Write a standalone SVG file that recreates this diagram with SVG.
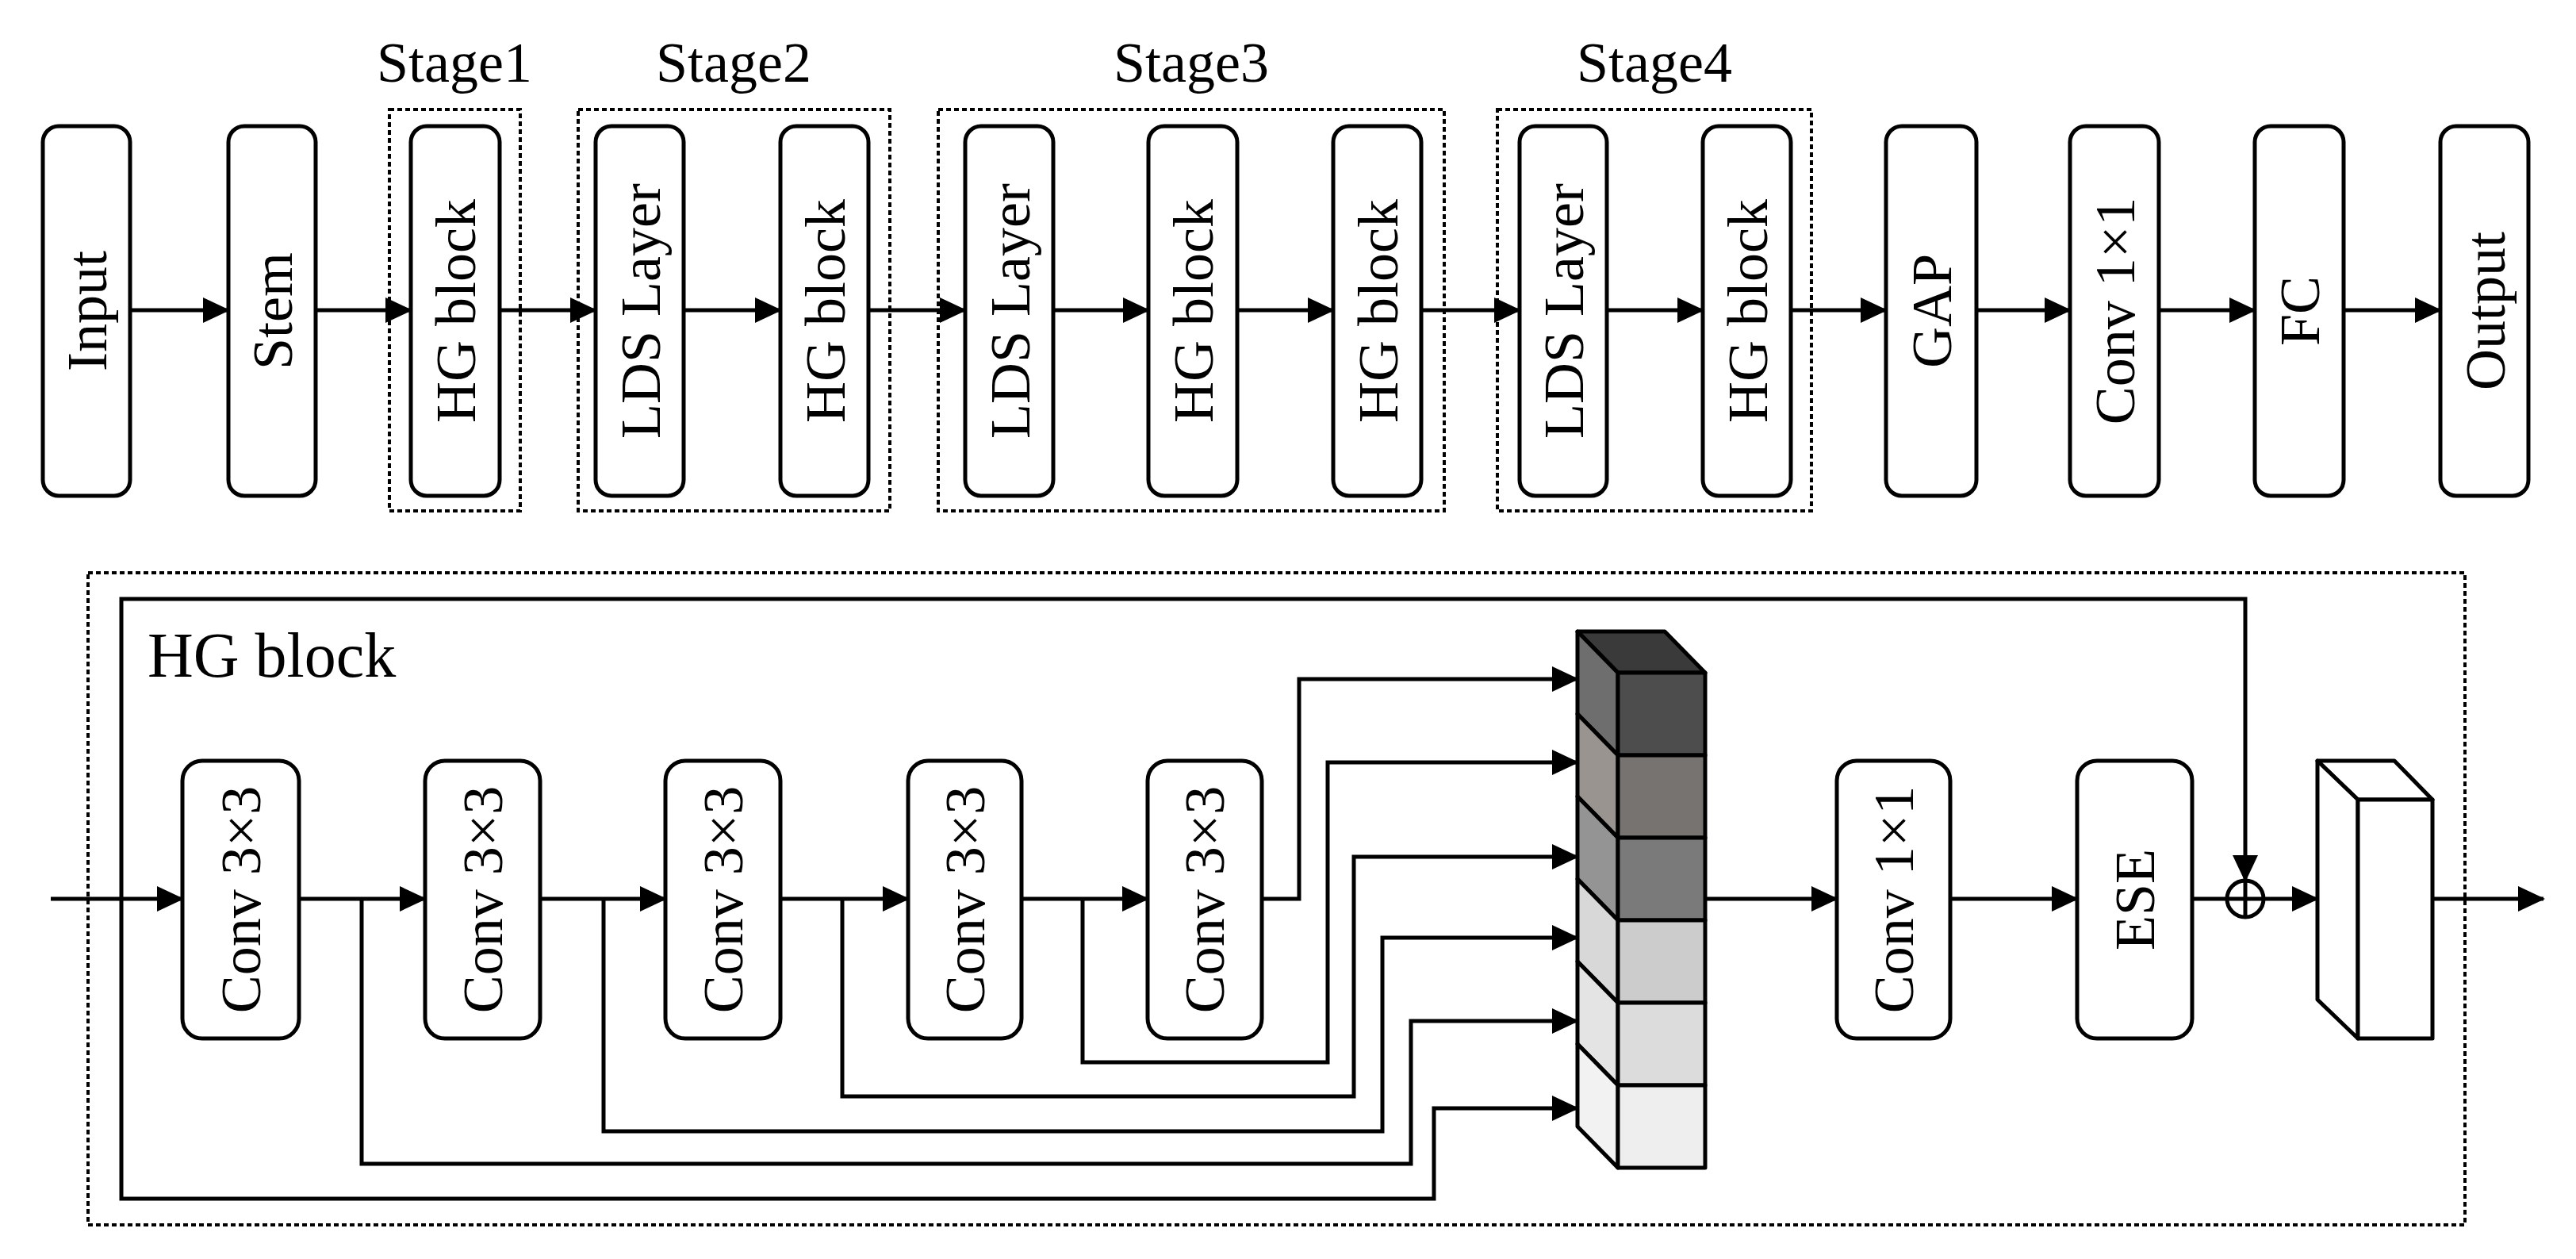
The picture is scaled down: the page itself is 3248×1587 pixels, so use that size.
<svg xmlns="http://www.w3.org/2000/svg" width="3248" height="1587" viewBox="0 0 3248 1587">
<style>
.b{fill:#fff;stroke:#000;stroke-width:5}
.d{fill:none;stroke:#000;stroke-width:4;stroke-dasharray:6 4}
.t{font-family:"Liberation Serif",serif;font-size:72px;fill:#000}
.c{fill:none;stroke:#000;stroke-width:5}
.a{fill:none;stroke:#000;stroke-width:5;marker-end:url(#ah)}
.k{stroke:#000;stroke-width:5;stroke-linejoin:round}
</style>
<defs>
<marker id="ah" markerUnits="userSpaceOnUse" markerWidth="34" markerHeight="32" refX="32" refY="16" orient="auto"><path d="M0,0 L34,16 L0,32 Z" fill="#000"/></marker>
</defs>
<rect width="3248" height="1587" fill="#fff"/>
<g id="stages">
<rect class="d" x="491" y="138" width="165" height="506"/>
<rect class="d" x="729" y="138" width="393" height="506"/>
<rect class="d" x="1183" y="138" width="638" height="506"/>
<rect class="d" x="1888" y="138" width="396" height="506"/>
<text class="t" x="573" y="103" text-anchor="middle">Stage1</text>
<text class="t" x="925" y="103" text-anchor="middle">Stage2</text>
<text class="t" x="1502" y="103" text-anchor="middle">Stage3</text>
<text class="t" x="2086" y="103" text-anchor="middle">Stage4</text>
</g>
<g id="top-nodes">
<g id="n-input"><rect class="b" x="54" y="159" width="110" height="466" rx="20"/><text class="t" transform="translate(134,392) rotate(-90)" text-anchor="middle">Input</text></g>
<g id="n-stem"><rect class="b" x="288" y="159" width="110" height="466" rx="20"/><text class="t" transform="translate(368,392) rotate(-90)" text-anchor="middle">Stem</text></g>
<g id="n-hg1"><rect class="b" x="518" y="159" width="112" height="466" rx="20"/><text class="t" transform="translate(599,392) rotate(-90)" text-anchor="middle">HG block</text></g>
<g id="n-lds2"><rect class="b" x="751" y="159" width="111" height="466" rx="20"/><text class="t" transform="translate(832,392) rotate(-90)" text-anchor="middle">LDS Layer</text></g>
<g id="n-hg2"><rect class="b" x="984" y="159" width="111" height="466" rx="20"/><text class="t" transform="translate(1065,392) rotate(-90)" text-anchor="middle">HG block</text></g>
<g id="n-lds3"><rect class="b" x="1217" y="159" width="111" height="466" rx="20"/><text class="t" transform="translate(1298,392) rotate(-90)" text-anchor="middle">LDS Layer</text></g>
<g id="n-hg3a"><rect class="b" x="1448" y="159" width="112" height="466" rx="20"/><text class="t" transform="translate(1529,392) rotate(-90)" text-anchor="middle">HG block</text></g>
<g id="n-hg3b"><rect class="b" x="1681" y="159" width="111" height="466" rx="20"/><text class="t" transform="translate(1762,392) rotate(-90)" text-anchor="middle">HG block</text></g>
<g id="n-lds4"><rect class="b" x="1916" y="159" width="110" height="466" rx="20"/><text class="t" transform="translate(1996,392) rotate(-90)" text-anchor="middle">LDS Layer</text></g>
<g id="n-hg4"><rect class="b" x="2147" y="159" width="111" height="466" rx="20"/><text class="t" transform="translate(2228,392) rotate(-90)" text-anchor="middle">HG block</text></g>
<g id="n-gap"><rect class="b" x="2378" y="159" width="114" height="466" rx="20"/><text class="t" transform="translate(2460,392) rotate(-90)" text-anchor="middle">GAP</text></g>
<g id="n-conv11"><rect class="b" x="2610" y="159" width="112" height="466" rx="20"/><text class="t" transform="translate(2691,392) rotate(-90)" text-anchor="middle">Conv 1×1</text></g>
<g id="n-fc"><rect class="b" x="2843" y="159" width="112" height="466" rx="20"/><text class="t" transform="translate(2924,392) rotate(-90)" text-anchor="middle">FC</text></g>
<g id="n-output"><rect class="b" x="3077" y="159" width="111" height="466" rx="20"/><text class="t" transform="translate(3158,392) rotate(-90)" text-anchor="middle">Output</text></g>
</g>
<g id="hg-detail">
<rect class="d" x="111" y="722" width="2997" height="822"/>
<text class="t" x="186" y="853" style="font-size:80px">HG block</text>
</g>
<g id="bottom-nodes">
<g id="c1"><rect class="b" x="230" y="959" width="147" height="350" rx="25"/><text class="t" transform="translate(328,1134) rotate(-90)" text-anchor="middle">Conv 3×3</text></g>
<g id="c2"><rect class="b" x="536" y="959" width="145" height="350" rx="25"/><text class="t" transform="translate(633,1134) rotate(-90)" text-anchor="middle">Conv 3×3</text></g>
<g id="c3"><rect class="b" x="839" y="959" width="145" height="350" rx="25"/><text class="t" transform="translate(936,1134) rotate(-90)" text-anchor="middle">Conv 3×3</text></g>
<g id="c4"><rect class="b" x="1145" y="959" width="143" height="350" rx="25"/><text class="t" transform="translate(1241,1134) rotate(-90)" text-anchor="middle">Conv 3×3</text></g>
<g id="c5"><rect class="b" x="1447" y="959" width="144" height="350" rx="25"/><text class="t" transform="translate(1543,1134) rotate(-90)" text-anchor="middle">Conv 3×3</text></g>
<g id="c11"><rect class="b" x="2316" y="959" width="143" height="350" rx="25"/><text class="t" transform="translate(2412,1134) rotate(-90)" text-anchor="middle">Conv 1×1</text></g>
<g id="ese"><rect class="b" x="2619" y="959" width="145" height="350" rx="25"/><text class="t" transform="translate(2716,1134) rotate(-90)" text-anchor="middle">ESE</text></g>
<g id="plus"><circle cx="2831" cy="1133" r="23" fill="#fff" stroke="#000" stroke-width="5"/><line x1="2808" y1="1133" x2="2854" y2="1133" stroke="#000" stroke-width="5"/><line x1="2831" y1="1110" x2="2831" y2="1156" stroke="#000" stroke-width="5"/></g>
<g id="concat">
<polygon class="k" fill="#3a3a3a" points="1989,796 2099,796 2150,848 2040,848"/>
<polygon class="k" fill="#6e6e6e" points="1989,796 2040,848 2040,952 1989,900"/>
<polygon class="k" fill="#999490" points="1989,900 2040,952 2040,1056 1989,1004"/>
<polygon class="k" fill="#949494" points="1989,1004 2040,1056 2040,1160 1989,1108"/>
<polygon class="k" fill="#d8d8d8" points="1989,1108 2040,1160 2040,1264 1989,1212"/>
<polygon class="k" fill="#e4e4e4" points="1989,1212 2040,1264 2040,1368 1989,1316"/>
<polygon class="k" fill="#f2f2f2" points="1989,1316 2040,1368 2040,1472 1989,1420"/>
<rect class="k" fill="#4d4d4d" x="2040" y="848" width="110" height="104"/>
<rect class="k" fill="#777370" x="2040" y="952" width="110" height="104"/>
<rect class="k" fill="#7a7a7a" x="2040" y="1056" width="110" height="104"/>
<rect class="k" fill="#cccccc" x="2040" y="1160" width="110" height="104"/>
<rect class="k" fill="#dcdcdc" x="2040" y="1264" width="110" height="104"/>
<rect class="k" fill="#eeeeee" x="2040" y="1368" width="110" height="104"/>
</g>
<g id="outblock">
<polygon class="k" fill="#fff" points="2922,959 3019,959 3067,1008 2973,1008"/>
<polygon class="k" fill="#fff" points="2922,959 2973,1008 2973,1309 2922,1260"/>
<rect class="k" fill="#fff" x="2973" y="1008" width="94" height="301"/>
</g>
</g>
<g id="connectors">
<line class="a" x1="164" y1="391" x2="288" y2="391"/>
<line class="a" x1="398" y1="391" x2="518" y2="391"/>
<line class="a" x1="630" y1="391" x2="751" y2="391"/>
<line class="a" x1="862" y1="391" x2="984" y2="391"/>
<line class="a" x1="1095" y1="391" x2="1217" y2="391"/>
<line class="a" x1="1328" y1="391" x2="1448" y2="391"/>
<line class="a" x1="1560" y1="391" x2="1681" y2="391"/>
<line class="a" x1="1792" y1="391" x2="1916" y2="391"/>
<line class="a" x1="2026" y1="391" x2="2147" y2="391"/>
<line class="a" x1="2258" y1="391" x2="2378" y2="391"/>
<line class="a" x1="2492" y1="391" x2="2610" y2="391"/>
<line class="a" x1="2722" y1="391" x2="2843" y2="391"/>
<line class="a" x1="2955" y1="391" x2="3077" y2="391"/>
<line class="a" x1="64" y1="1133" x2="230" y2="1133"/>
<line class="a" x1="377" y1="1133" x2="536" y2="1133"/>
<line class="a" x1="681" y1="1133" x2="839" y2="1133"/>
<line class="a" x1="984" y1="1133" x2="1145" y2="1133"/>
<line class="a" x1="1288" y1="1133" x2="1447" y2="1133"/>
<polyline class="a" points="1591,1133 1638,1133 1638,856 1989,856"/>
<polyline class="a" points="1365,1133 1365,1339 1674,1339 1674,961 1989,961"/>
<polyline class="a" points="1062,1133 1062,1382 1707,1382 1707,1080 1989,1080"/>
<polyline class="a" points="761,1133 761,1426 1743,1426 1743,1182 1989,1182"/>
<polyline class="a" points="456,1133 456,1467 1779,1467 1779,1287 1989,1287"/>
<polyline class="a" points="153,1133 153,1511 1808,1511 1808,1397 1989,1397"/>
<polyline class="a" points="153,1133 153,755 2831,755 2831,1110"/>
<line class="a" x1="2150" y1="1133" x2="2316" y2="1133"/>
<line class="a" x1="2459" y1="1133" x2="2619" y2="1133"/>
<line class="c" x1="2764" y1="1133" x2="2808" y2="1133"/>
<line class="a" x1="2854" y1="1133" x2="2922" y2="1133"/>
<line class="a" x1="3067" y1="1133" x2="3207" y2="1133"/>
</g>
</svg>
